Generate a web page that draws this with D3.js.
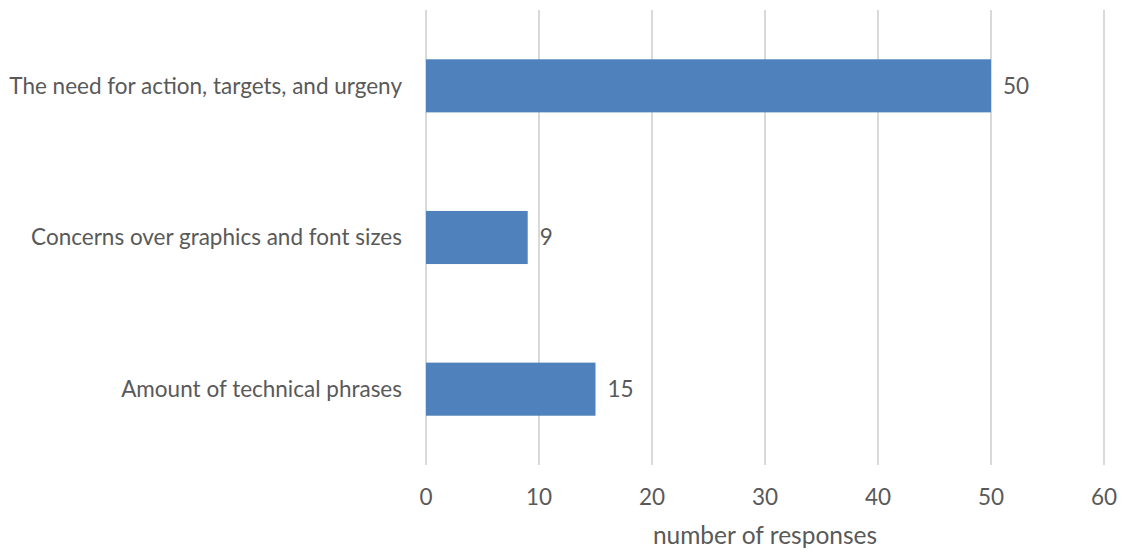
<!DOCTYPE html>
<html><head><meta charset="utf-8">
<script src="https://cdn.jsdelivr.net/npm/d3@7"></script>
<style>body{margin:0;background:#fff;} text{font-family:"Lato",sans-serif;}</style>
</head><body><svg id="c" width="1126" height="554"></svg>
<script>
const categories = ["The need for action, targets, and urgeny","Concerns over graphics and font sizes","Amount of technical phrases"];
const values = [50, 9, 15];
const tickValues = [0,10,20,30,40,50,60];
const axisTitle = "number of responses";

const svg = d3.select("#c");
const x = d3.scaleLinear().domain([0,60]).range([426,1104]);
const y = d3.scaleBand().domain(categories).range([10,465]).paddingInner(0.65).paddingOuter(0.325);
const col = "#595959";

svg.append("g").selectAll("line").data(tickValues).join("line")
  .attr("x1",d=>x(d)).attr("x2",d=>x(d)).attr("y1",10).attr("y2",465)
  .attr("stroke","#d9d9d9").attr("stroke-width",2);

svg.append("g").selectAll("rect").data(values).join("rect")
  .attr("x",x(0)).attr("y",(d,i)=>y(categories[i])).attr("width",d=>x(d)-x(0))
  .attr("height",y.bandwidth()).attr("fill","#4F81BD");

svg.append("g").selectAll("text").data(values).join("text")
  .attr("x",d=>x(d)+12).attr("y",(d,i)=>y(categories[i])+y.bandwidth()/2)
  .attr("dy","0.35em").attr("fill",col).attr("font-size",22.5).text(d=>d);

svg.append("g").selectAll("text").data(categories).join("text")
  .attr("x",402).attr("y",d=>y(d)+y.bandwidth()/2).attr("dy","0.35em")
  .attr("text-anchor","end").attr("fill",col).attr("font-size",22.5).text(d=>d);

svg.append("g").selectAll("text").data(tickValues).join("text")
  .attr("x",d=>x(d)).attr("y",497).attr("dy","0.35em")
  .attr("text-anchor","middle").attr("fill",col).attr("font-size",22.5).text(d=>d);

svg.append("text").attr("x",(x(0)+x(60))/2).attr("y",535).attr("dy","0.35em")
  .attr("text-anchor","middle").attr("fill",col).attr("font-size",24.5).text(axisTitle);
</script></body></html>
